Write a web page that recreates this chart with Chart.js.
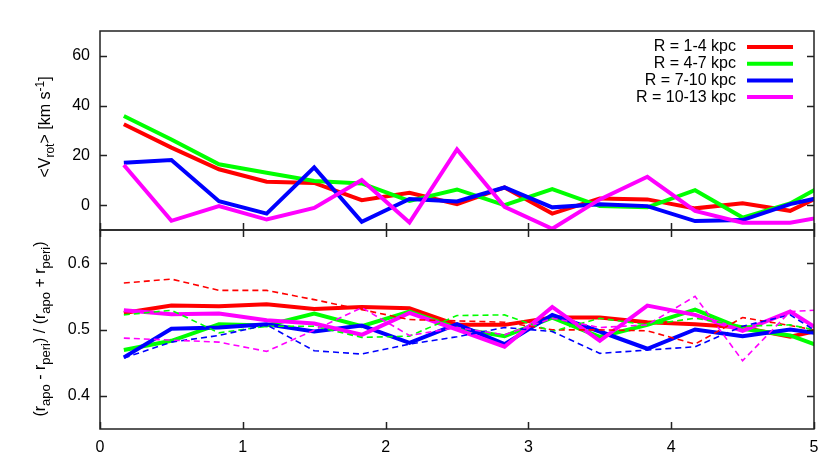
<!DOCTYPE html>
<html>
<head>
<meta charset="utf-8">
<script src="https://cdn.jsdelivr.net/npm/chart.js@4/dist/chart.umd.min.js"></script>
<style>
  body { margin:0; background:#fff; font-family:"Liberation Sans", Arial, sans-serif; }
  #wrap { position:relative; width:830px; height:463px; }
  canvas { position:absolute; left:0; }
  .ylab { position:absolute; width:0; height:0; }
  .ylab span { position:absolute; left:0; top:0; white-space:nowrap; color:#000; font-size:16px;
    transform:translate(-50%,-50%) rotate(-90deg); }
  #lab1 sub, #lab1 sup { font-size:12px; }
  #lab2 sub { font-size:13px; }
</style>
</head>
<body>
<div id="wrap">
  <canvas id="top" style="top:0px"></canvas>
  <canvas id="bot" style="top:200px"></canvas>
  <div class="ylab" id="lab1" style="left:45px; top:127px"><span>&lt;V<sub>rot</sub>&gt; [km s<sup>-1</sup>]</span></div>
  <div class="ylab" id="lab2" style="left:42px; top:329px"><span>(r<sub>apo</sub> - r<sub>peri</sub>) / (r<sub>apo</sub> + r<sub>peri</sub>)</span></div>
</div>
<script>
// bin centres along x (last one falls past the axis end and is clipped)
var xVals = [0.167, 0.5, 0.833, 1.167, 1.5, 1.833, 2.167, 2.5, 2.833, 3.167, 3.5, 3.833, 4.167, 4.5, 4.833, 5.167];
var labels = ['R = 1-4 kpc', 'R = 4-7 kpc', 'R = 7-10 kpc', 'R = 10-13 kpc'];
var colors = ['#ff0000', '#00ff00', '#0000ff', '#ff00ff'];

// top panel: <V_rot>
var vrot1 = [32.5, 23.1, 14.4, 9.4, 8.9, 2.0, 5.0, 0.4, 7.1, -3.4, 2.7, 2.3, -1.3, 0.7, -2.3, 6.9];
var vrot2 = [35.8, 26.4, 16.4, 13.0, 9.7, 8.7, 1.7, 6.3, 0.0, 6.4, -0.4, -0.9, 6.0, -5.0, 0.7, 11.3];
var vrot3 = [17.0, 18.1, 1.6, -3.4, 15.2, -6.7, 2.5, 1.5, 7.1, -0.9, 0.4, -0.4, -6.4, -6.0, 0.4, 4.6];
var vrot4 = [16.1, -6.3, -0.4, -5.8, -1.1, 10.1, -7.0, 22.4, -0.7, -9.5, 2.3, 11.4, -2.3, -7.1, -7.1, -3.7];

// bottom panel: eccentricity, solid
var ecc1 = [0.525, 0.536, 0.535, 0.538, 0.531, 0.534, 0.532, 0.507, 0.507, 0.518, 0.518, 0.511, 0.508, 0.503, 0.489, 0.505];
var ecc2 = [0.469, 0.483, 0.508, 0.506, 0.524, 0.505, 0.527, 0.502, 0.490, 0.518, 0.489, 0.507, 0.530, 0.501, 0.491, 0.465];
var ecc3 = [0.458, 0.501, 0.503, 0.508, 0.497, 0.506, 0.480, 0.508, 0.478, 0.522, 0.497, 0.471, 0.500, 0.490, 0.500, 0.490];
var ecc4 = [0.529, 0.523, 0.524, 0.514, 0.509, 0.492, 0.525, 0.500, 0.474, 0.534, 0.483, 0.536, 0.522, 0.498, 0.527, 0.482];
// dashed
var eccd1 = [0.570, 0.576, 0.559, 0.559, 0.545, 0.530, 0.515, 0.513, 0.511, 0.4995, 0.4995, 0.498, 0.478, 0.518, 0.506, 0.493];
var eccd2 = [0.522, 0.529, 0.495, 0.505, 0.505, 0.488, 0.490, 0.521, 0.522, 0.497, 0.517, 0.507, 0.517, 0.505, 0.507, 0.492];
var eccd3 = [0.457, 0.481, 0.491, 0.507, 0.468, 0.463, 0.478, 0.489, 0.503, 0.497, 0.464, 0.469, 0.474, 0.505, 0.522, 0.477];
var eccd4 = [0.487, 0.484, 0.481, 0.467, 0.499, 0.533, 0.491, 0.503, 0.492, 0.517, 0.503, 0.507, 0.550, 0.453, 0.527, 0.531];

var xTicks = [0, 1, 2, 3, 4, 5];
var topTicks = [0, 20, 40, 60];
var botTicks = [0.4, 0.5, 0.6];

Chart.defaults.font.family = '"Liberation Sans", Arial, sans-serif';
Chart.defaults.font.size = 16;
Chart.defaults.color = '#000';

function pts(ys) {
    var out = [];
    for (var i = 0; i < ys.length; i++) out.push({x: xVals[i], y: ys[i]});
    return out;
}

function line(ys, i, dashed, order) {
    return {
        data: pts(ys),
        borderColor: colors[i],
        borderWidth: dashed ? 1.6 : 4,
        borderDash: dashed ? [6, 4] : [],
        pointRadius: 0,
        tension: 0,
        clip: 0,
        order: order
    };
}

function setTicks(vals) {
    return function(scale) { scale.ticks = vals.map(function(v){ return {value: v}; }); };
}

// box + inward tick marks, gnuplot style
function framePlugin(topXTicks) {
    return {
        id: 'frame',
        afterDatasetsDraw: function(chart) {
            var c = chart.ctx, a = chart.chartArea, L = 7;
            var xs = chart.scales.x, ys = chart.scales.y;
            c.save();
            c.strokeStyle = '#222';
            c.lineWidth = 1.5;
            c.beginPath();
            ys.ticks.forEach(function(t) {
                var py = Math.round(ys.getPixelForValue(t.value)) + 0.5;
                c.moveTo(a.left, py); c.lineTo(a.left + L, py);
                c.moveTo(a.right, py); c.lineTo(a.right - L, py);
            });
            xTicks.forEach(function(v) {
                var px = Math.round(xs.getPixelForValue(v)) + 0.5;
                c.moveTo(px, a.bottom); c.lineTo(px, a.bottom - L);
                if (topXTicks) { c.moveTo(px, a.top); c.lineTo(px, a.top + L); }
            });
            c.stroke();
            c.strokeRect(a.left, a.top, a.right - a.left, a.bottom - a.top);
            c.restore();
        }
    };
}

var legendPlugin = {
    id: 'keybox',
    afterDraw: function(chart) {
        var c = chart.ctx;
        c.save();
        c.font = '16px "Liberation Sans", Arial, sans-serif';
        c.fillStyle = '#000';
        c.textAlign = 'right';
        c.textBaseline = 'middle';
        for (var i = 0; i < labels.length; i++) {
            var y = 47 + i * 16.7;
            c.fillText(labels[i], 736, y);
            c.strokeStyle = colors[i];
            c.lineWidth = 4;
            c.beginPath();
            c.moveTo(747, y); c.lineTo(793, y);
            c.stroke();
        }
        c.restore();
    }
};

var topCanvas = document.getElementById('top');
topCanvas.width = 830; topCanvas.height = 260;
new Chart(topCanvas, {
    type: 'line',
    data: {
        datasets: [
            line(vrot1, 0, false, 4),
            line(vrot2, 1, false, 3),
            line(vrot3, 2, false, 2),
            line(vrot4, 3, false, 1)
        ]
    },
    options: {
        responsive: false,
        animation: false,
        layout: { padding: { left: 0, right: 16, top: 31, bottom: 30 } },
        plugins: { legend: { display: false }, tooltip: { enabled: false } },
        scales: {
            x: { type: 'linear', min: 0, max: 5, display: false },
            y: {
                min: -10, max: 70,
                afterBuildTicks: setTicks(topTicks),
                afterFit: function(s) { s.width = 100; },
                grid: { display: false, drawTicks: false },
                border: { display: false },
                ticks: { padding: 10 }
            }
        }
    },
    plugins: [framePlugin(false), legendPlugin]
});

var botCanvas = document.getElementById('bot');
botCanvas.width = 830; botCanvas.height = 263;
new Chart(botCanvas, {
    type: 'line',
    data: {
        datasets: [
            line(eccd1, 0, true, 4),
            line(eccd2, 1, true, 3),
            line(eccd3, 2, true, 2),
            line(eccd4, 3, true, 1),
            line(ecc1, 0, false, 8),
            line(ecc2, 1, false, 7),
            line(ecc3, 2, false, 6),
            line(ecc4, 3, false, 5)
        ]
    },
    options: {
        responsive: false,
        animation: false,
        layout: { padding: { left: 0, right: 16, top: 30, bottom: 0 } },
        plugins: { legend: { display: false }, tooltip: { enabled: false } },
        scales: {
            x: {
                type: 'linear', min: 0, max: 5,
                afterBuildTicks: setTicks(xTicks),
                afterFit: function(s) { s.height = 34; },
                grid: { display: false, drawTicks: false },
                border: { display: false },
                ticks: { padding: 9, maxRotation: 0 }
            },
            y: {
                min: 0.35, max: 0.65,
                afterBuildTicks: setTicks(botTicks),
                afterFit: function(s) { s.width = 100; },
                grid: { display: false, drawTicks: false },
                border: { display: false },
                ticks: { padding: 10, callback: function(v) { return v.toFixed(1); } }
            }
        }
    },
    plugins: [framePlugin(true)]
});
</script>
</body>
</html>
